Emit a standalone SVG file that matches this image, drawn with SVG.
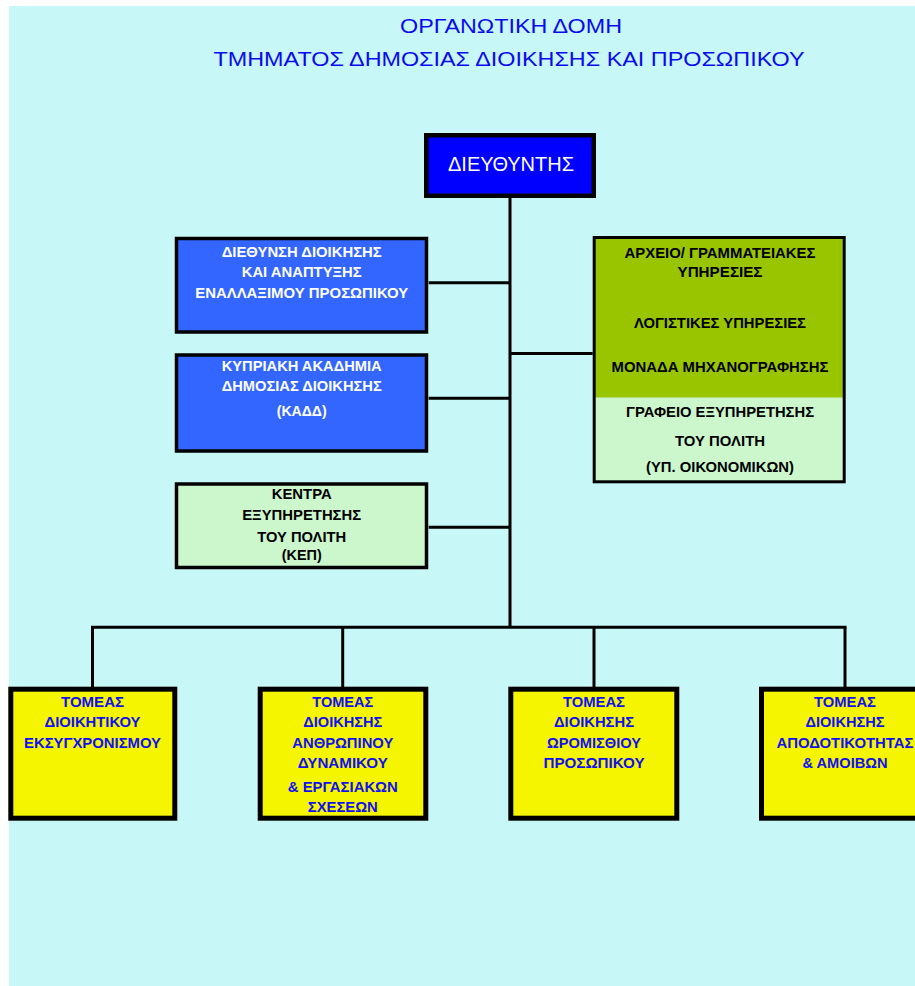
<svg xmlns="http://www.w3.org/2000/svg" width="915" height="986" viewBox="0 0 915 986">
<style>
.t{font-family:"Liberation Sans",Arial,sans-serif;text-anchor:middle}
.title{font-size:21px;fill:#0A0AF0}
.b{font-size:14px;font-weight:bold}
.w{fill:#FFFFFF}
.k{fill:#000000}
.y{fill:#1010F0}
.box{stroke:#000000}
.ln{stroke:#000000;stroke-width:3;fill:none}
</style>
<rect x="0" y="0" width="915" height="986" fill="#FFFFFF"/>
<rect x="9" y="6" width="906" height="980" fill="#C8F7F7"/>
<g id="title">
<text class="t title" x="511" y="33" textLength="222" lengthAdjust="spacingAndGlyphs">ΟΡΓΑΝΩΤΙΚΗ ΔΟΜΗ</text>
<text class="t title" x="509" y="65.5" textLength="591" lengthAdjust="spacingAndGlyphs">ΤΜΗΜΑΤΟΣ ΔΗΜΟΣΙΑΣ ΔΙΟΙΚΗΣΗΣ ΚΑΙ ΠΡΟΣΩΠΙΚΟΥ</text>
</g>
<g id="connectors">
<line class="ln" x1="510" y1="198" x2="510" y2="627.5"/>
<line class="ln" x1="428.7" y1="282.7" x2="510" y2="282.7"/>
<line class="ln" x1="428.7" y1="398.3" x2="510" y2="398.3"/>
<line class="ln" x1="428.7" y1="527.3" x2="510" y2="527.3"/>
<line class="ln" x1="510" y1="353.5" x2="592.7" y2="353.5"/>
<line class="ln" x1="91" y1="627.3" x2="846.5" y2="627.3"/>
<line class="ln" x1="92.5" y1="627.3" x2="92.5" y2="687"/>
<line class="ln" x1="342.7" y1="627.3" x2="342.7" y2="687"/>
<line class="ln" x1="594" y1="627.3" x2="594" y2="687"/>
<line class="ln" x1="845" y1="627.3" x2="845" y2="687"/>
</g>
<g id="director">
<rect class="box" x="426.25" y="135.25" width="167.5" height="60.5" fill="#0000FF" stroke-width="4.5"/>
<text class="t w" x="511" y="170.7" font-size="21" textLength="126" lengthAdjust="spacingAndGlyphs">ΔΙΕΥΘΥΝΤΗΣ</text>
</g>
<g id="dnsi">
<rect class="box" x="176.5" y="238.5" width="250" height="93.5" fill="#3366FF" stroke-width="3.5"/>
<text class="t b w" x="301.7" y="257.3" textLength="160" lengthAdjust="spacingAndGlyphs">ΔΙΕΘΥΝΣΗ ΔΙΟΙΚΗΣΗΣ</text>
<text class="t b w" x="301.7" y="276.7" textLength="120" lengthAdjust="spacingAndGlyphs">ΚΑΙ ΑΝΑΠΤΥΞΗΣ</text>
<text class="t b w" x="301.7" y="297.7" textLength="213" lengthAdjust="spacingAndGlyphs">ΕΝΑΛΛΑΞΙΜΟΥ ΠΡΟΣΩΠΙΚΟΥ</text>
</g>
<g id="kadd">
<rect class="box" x="176.5" y="355" width="250" height="96" fill="#3366FF" stroke-width="3.5"/>
<text class="t b w" x="301.7" y="370.7" textLength="160" lengthAdjust="spacingAndGlyphs">ΚΥΠΡΙΑΚΗ ΑΚΑΔΗΜΙΑ</text>
<text class="t b w" x="301.7" y="390.7" textLength="160" lengthAdjust="spacingAndGlyphs">ΔΗΜΟΣΙΑΣ ΔΙΟΙΚΗΣΗΣ</text>
<text class="t b w" x="301.7" y="416" textLength="50" lengthAdjust="spacingAndGlyphs">(ΚΑΔΔ)</text>
</g>
<g id="kep">
<rect class="box" x="176.5" y="484" width="250" height="83.5" fill="#CCF7CC" stroke-width="3.5"/>
<text class="t b k" x="301.7" y="499" textLength="60" lengthAdjust="spacingAndGlyphs">ΚΕΝΤΡΑ</text>
<text class="t b k" x="301.7" y="520.3" textLength="119" lengthAdjust="spacingAndGlyphs">ΕΞΥΠΗΡΕΤΗΣΗΣ</text>
<text class="t b k" x="301.7" y="542" textLength="89" lengthAdjust="spacingAndGlyphs">ΤΟΥ ΠΟΛΙΤΗ</text>
<text class="t b k" x="301.7" y="560" textLength="40" lengthAdjust="spacingAndGlyphs">(ΚΕΠ)</text>
</g>
<g id="services">
<rect x="594.2" y="237.5" width="250" height="160.2" fill="#99C400"/>
<rect x="594.2" y="397.7" width="250" height="84.1" fill="#CCF7CC"/>
<rect class="box" x="594.2" y="237.5" width="250" height="244.3" fill="none" stroke-width="3"/>
<text class="t b k" x="720" y="257.7" textLength="191" lengthAdjust="spacingAndGlyphs">ΑΡΧΕΙΟ/ ΓΡΑΜΜΑΤΕΙΑΚΕΣ</text>
<text class="t b k" x="720" y="276.7" textLength="85" lengthAdjust="spacingAndGlyphs">ΥΠΗΡΕΣΙΕΣ</text>
<text class="t b k" x="720" y="327.7" textLength="172" lengthAdjust="spacingAndGlyphs">ΛΟΓΙΣΤΙΚΕΣ ΥΠΗΡΕΣΙΕΣ</text>
<text class="t b k" x="720" y="371.7" textLength="217" lengthAdjust="spacingAndGlyphs">ΜΟΝΑΔΑ ΜΗΧΑΝΟΓΡΑΦΗΣΗΣ</text>
<text class="t b k" x="720" y="416.7" textLength="188" lengthAdjust="spacingAndGlyphs">ΓΡΑΦΕΙΟ ΕΞΥΠΗΡΕΤΗΣΗΣ</text>
<text class="t b k" x="720" y="445.7" textLength="90" lengthAdjust="spacingAndGlyphs">ΤΟΥ ΠΟΛΙΤΗ</text>
<text class="t b k" x="720" y="472" textLength="148" lengthAdjust="spacingAndGlyphs">(ΥΠ. ΟΙΚΟΝΟΜΙΚΩΝ)</text>
</g>
<g id="sector1">
<rect class="box" x="10.8" y="689.2" width="164" height="129" fill="#F5F500" stroke-width="5"/>
<text class="t b y" x="92.5" y="706.7" textLength="63" lengthAdjust="spacingAndGlyphs">ΤΟΜΕΑΣ</text>
<text class="t b y" x="92.5" y="726.7" textLength="96" lengthAdjust="spacingAndGlyphs">ΔΙΟΙΚΗΤΙΚΟΥ</text>
<text class="t b y" x="92.5" y="747.7" textLength="137" lengthAdjust="spacingAndGlyphs">ΕΚΣΥΓΧΡΟΝΙΣΜΟΥ</text>
</g>
<g id="sector2">
<rect class="box" x="260.2" y="689.2" width="165.6" height="129" fill="#F5F500" stroke-width="5"/>
<text class="t b y" x="342.8" y="706.7" textLength="61" lengthAdjust="spacingAndGlyphs">ΤΟΜΕΑΣ</text>
<text class="t b y" x="342.8" y="726.7" textLength="79" lengthAdjust="spacingAndGlyphs">ΔΙΟΙΚΗΣΗΣ</text>
<text class="t b y" x="342.8" y="747.7" textLength="101" lengthAdjust="spacingAndGlyphs">ΑΝΘΡΩΠΙΝΟΥ</text>
<text class="t b y" x="342.8" y="768.3" textLength="90" lengthAdjust="spacingAndGlyphs">ΔΥΝΑΜΙΚΟΥ</text>
<text class="t b y" x="342.8" y="791.7" textLength="110" lengthAdjust="spacingAndGlyphs">&amp; ΕΡΓΑΣΙΑΚΩΝ</text>
<text class="t b y" x="342.8" y="811.7" textLength="70" lengthAdjust="spacingAndGlyphs">ΣΧΕΣΕΩΝ</text>
</g>
<g id="sector3">
<rect class="box" x="510.8" y="689.2" width="166" height="129" fill="#F5F500" stroke-width="5"/>
<text class="t b y" x="594" y="706.7" textLength="62" lengthAdjust="spacingAndGlyphs">ΤΟΜΕΑΣ</text>
<text class="t b y" x="594" y="726.7" textLength="80" lengthAdjust="spacingAndGlyphs">ΔΙΟΙΚΗΣΗΣ</text>
<text class="t b y" x="594" y="747.7" textLength="94" lengthAdjust="spacingAndGlyphs">ΩΡΟΜΙΣΘΙΟΥ</text>
<text class="t b y" x="594" y="768.3" textLength="101" lengthAdjust="spacingAndGlyphs">ΠΡΟΣΩΠΙΚΟΥ</text>
</g>
<g id="sector4">
<rect class="box" x="761.5" y="689.2" width="167" height="129" fill="#F5F500" stroke-width="5"/>
<text class="t b y" x="845" y="706.7" textLength="62" lengthAdjust="spacingAndGlyphs">ΤΟΜΕΑΣ</text>
<text class="t b y" x="845" y="726.7" textLength="79" lengthAdjust="spacingAndGlyphs">ΔΙΟΙΚΗΣΗΣ</text>
<text class="t b y" x="845" y="747.7" textLength="137" lengthAdjust="spacingAndGlyphs">ΑΠΟΔΟΤΙΚΟΤΗΤΑΣ</text>
<text class="t b y" x="845" y="768.3" textLength="85" lengthAdjust="spacingAndGlyphs">&amp; ΑΜΟΙΒΩΝ</text>
</g>
</svg>
